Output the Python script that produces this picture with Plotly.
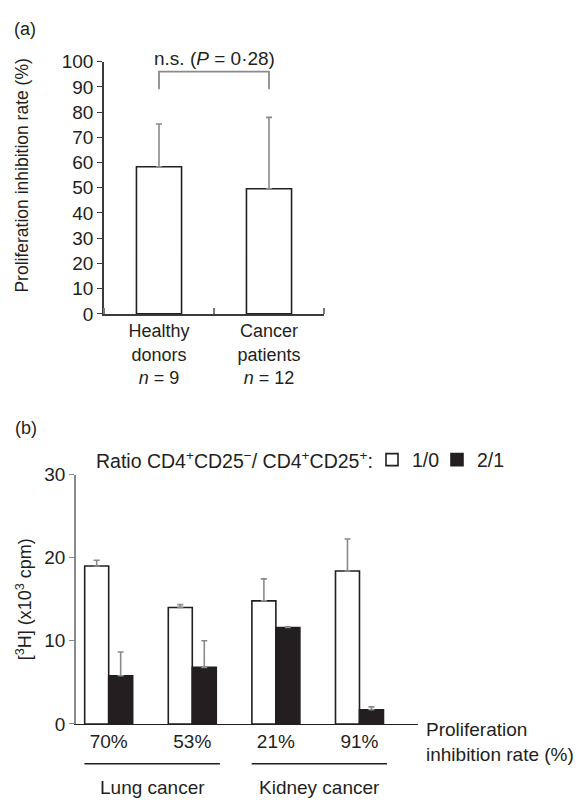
import plotly.graph_objects as go

# ---------------- data ----------------
# Panel (a)
a_categories = ["Healthy<br>donors<br><i>n</i> = 9", "Cancer<br>patients<br><i>n</i> = 12"]
a_values = [58.3, 49.6]
a_err = [17.0, 28.3]
a_bracket_y = [89, 96]
a_yticks = [0, 10, 20, 30, 40, 50, 60, 70, 80, 90, 100]

# Panel (b)
b_rates = ["70%", "53%", "21%", "91%"]
b_ratio_10 = [19.0, 14.0, 14.8, 18.4]
b_ratio_10_err = [0.7, 0.35, 2.65, 3.85]
b_ratio_21 = [5.8, 6.8, 11.6, 1.7]
b_ratio_21_err = [2.85, 3.2, 0.1, 0.35]
b_groups = ["Lung cancer", "Kidney cancer"]
b_group_members = [[0, 1], [2, 3]]
b_yticks = [0, 10, 20, 30]

W, H = 578, 807
FONT = "Liberation Sans, Arial, Helvetica, sans-serif"
TXT = "#231f20"
ERR = "#8a8a8a"

def px_x(p):
    return p / W

def px_y(p):
    return 1 - p / H

fig = go.Figure()

# ---- panel (a) ----
a_x = list(range(len(a_values)))
fig.add_trace(go.Bar(
    x=a_x, y=a_values, width=0.41,
    marker=dict(color="white", line=dict(color=TXT, width=1.6)),
    error_y=dict(type="data", symmetric=False, array=a_err, arrayminus=[0] * len(a_err),
                 color=ERR, thickness=1.6, width=3),
    xaxis="x", yaxis="y", showlegend=False, cliponaxis=False,
))
fig.add_trace(go.Scatter(
    x=[a_x[0], a_x[0], a_x[1], a_x[1]],
    y=[a_bracket_y[0], a_bracket_y[1], a_bracket_y[1], a_bracket_y[0]],
    mode="lines", line=dict(color=ERR, width=1.8),
    xaxis="x", yaxis="y", showlegend=False, cliponaxis=False, hoverinfo="skip",
))

# ---- panel (b) ----
b_x = list(range(len(b_rates)))
fig.add_trace(go.Bar(
    x=b_x, y=b_ratio_10, name="1/0", legend="legend",
    marker=dict(color="white", line=dict(color=TXT, width=1.6)),
    error_y=dict(type="data", symmetric=False, array=b_ratio_10_err,
                 arrayminus=[0] * len(b_ratio_10_err), color=ERR, thickness=1.6, width=3),
    xaxis="x2", yaxis="y2", cliponaxis=False,
))
fig.add_trace(go.Bar(
    x=b_x, y=b_ratio_21, name="2/1", legend="legend2",
    marker=dict(color=TXT, line=dict(color=TXT, width=1.6)),
    error_y=dict(type="data", symmetric=False, array=b_ratio_21_err,
                 arrayminus=[0] * len(b_ratio_21_err), color=ERR, thickness=1.6, width=3),
    xaxis="x2", yaxis="y2", cliponaxis=False,
))

annotations = [
    dict(text="(a)", x=px_x(12), y=px_y(20), xref="paper", yref="paper",
         xanchor="left", yanchor="middle", showarrow=False, font=dict(size=18)),
    dict(text="(b)", x=px_x(13), y=px_y(429), xref="paper", yref="paper",
         xanchor="left", yanchor="middle", showarrow=False, font=dict(size=18)),
    dict(text="n.s. (<i>P</i> = 0·28)", x=0.5, y=px_y(50), xref="x", yref="paper",
         xanchor="center", yanchor="middle", showarrow=False, font=dict(size=19)),
    dict(text="Proliferation inhibition rate (%)", x=px_x(22), y=px_y(170),
         xref="paper", yref="paper", textangle=-90, showarrow=False,
         xanchor="center", yanchor="middle", font=dict(size=17.5)),
    dict(text="[<sup>3</sup>H] (x10<sup>3</sup> cpm)", x=px_x(24), y=px_y(605),
         xref="paper", yref="paper", textangle=-90, showarrow=False,
         xanchor="center", yanchor="middle", font=dict(size=18)),
    dict(text="Ratio CD4<sup>+</sup>CD25<sup>−</sup>/ CD4<sup>+</sup>CD25<sup>+</sup>:",
         x=px_x(94), y=px_y(462), xref="paper", yref="paper",
         xanchor="left", yanchor="middle", showarrow=False, font=dict(size=19.5)),
    dict(text="Proliferation<br>inhibition rate (%)", x=px_x(424), y=px_y(752),
         xref="paper", yref="paper", xanchor="left", yanchor="middle", align="left",
         showarrow=False, font=dict(size=19)),
]

shapes = []
for name, members in zip(b_groups, b_group_members):
    x0 = min(members) - 0.29
    x1 = max(members) + 0.33
    shapes.append(dict(type="line", xref="x2", yref="paper", x0=x0, x1=x1,
                       y0=px_y(774), y1=px_y(774), line=dict(color=TXT, width=1.5)))
    annotations.append(dict(text=name, x=(x0 + x1) / 2, y=px_y(798), xref="x2", yref="paper",
                            xanchor="center", yanchor="middle", showarrow=False,
                            font=dict(size=19)))

legend_common = dict(orientation="h", yanchor="middle", xanchor="left",
                     bgcolor="rgba(0,0,0,0)", font=dict(size=19.5), itemwidth=30)

fig.update_layout(
    width=W, height=H, autosize=False,
    margin=dict(l=0, r=0, t=0, b=0),
    paper_bgcolor="white", plot_bgcolor="white",
    font=dict(family=FONT, color=TXT, size=19),
    barmode="group", bargap=0.426, bargroupgap=0.0,
    showlegend=True,
    legend=dict(x=px_x(372), y=px_y(462), **legend_common),
    legend2=dict(x=px_x(437), y=px_y(462), **legend_common),
    annotations=annotations,
    shapes=shapes,
    xaxis=dict(domain=[px_x(104), px_x(324)], range=[-0.5, 1.5], anchor="y",
               tickmode="array", tickvals=a_x, ticktext=a_categories, ticks="",
               showline=True, linecolor="#3a3a3a", linewidth=1.6, showgrid=False,
               zeroline=False, tickfont=dict(size=18),
               minor=dict(tickmode="array", tickvals=[-0.5, 0.5, 1.5], ticks="inside",
                          ticklen=6, tickcolor="#7a7a7a", tickwidth=1.6, showgrid=False)),
    yaxis=dict(domain=[px_y(312), px_y(53)], range=[0, 100], anchor="x",
               tickmode="array", tickvals=a_yticks, ticks="outside", ticklen=5,
               tickcolor="#3a3a3a", tickwidth=1.4,
               showline=True, linecolor="#3a3a3a", linewidth=1.6, showgrid=False,
               zeroline=False, tickfont=dict(size=19)),
    xaxis2=dict(domain=[px_x(76), px_x(418)], range=[-0.391, 3.70], anchor="y2",
                tickmode="array", tickvals=b_x, ticktext=b_rates, ticks="",
                showline=True, linecolor=TXT, linewidth=1.4, showgrid=False,
                zeroline=False, tickfont=dict(size=19)),
    yaxis2=dict(domain=[px_y(733), px_y(477)], range=[0, 30], anchor="x2",
                tickmode="array", tickvals=b_yticks, ticks="outside", ticklen=5,
                tickcolor="#8a8a8a", tickwidth=1.4,
                showline=True, linecolor="#8a8a8a", linewidth=1.6, showgrid=False,
                zeroline=False, tickfont=dict(size=19)),
)

fig.write_html(
    "out.html",
    config={"displayModeBar": False},
    post_script="document.body.style.margin='0';document.body.style.overflow='hidden';",
)
